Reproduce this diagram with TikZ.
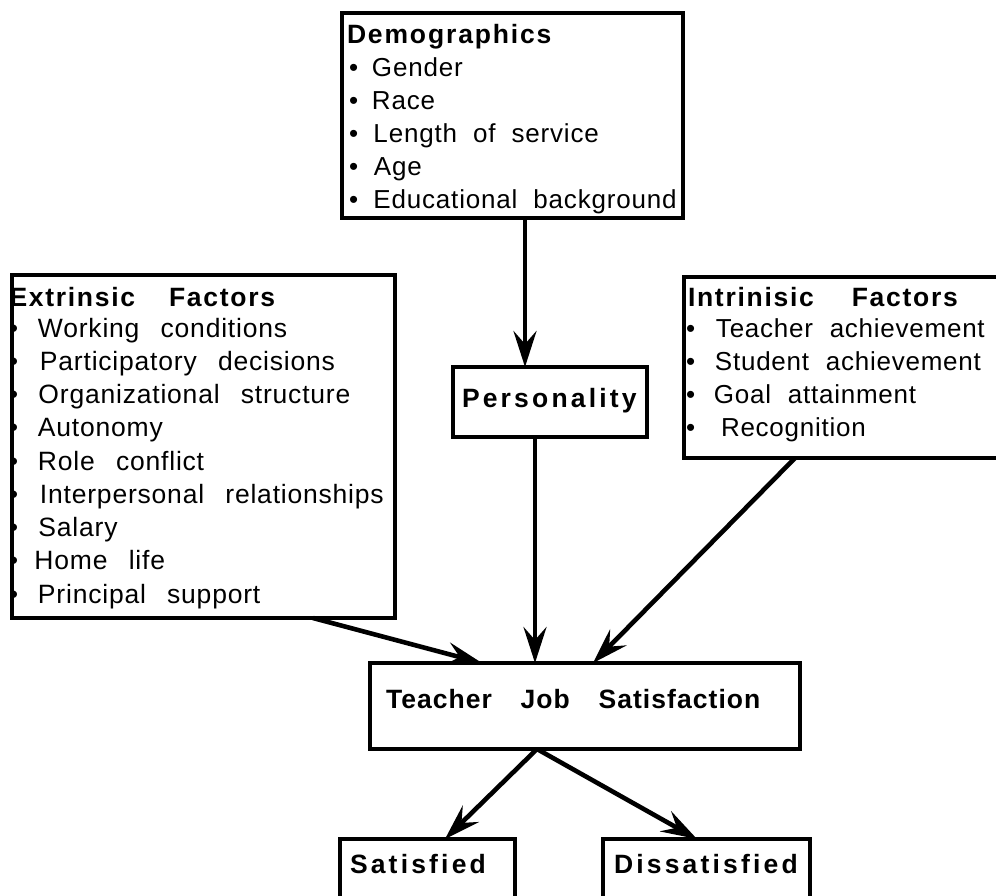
\documentclass[tikz,border=0pt]{standalone}
\usepackage{fontspec}
\setmainfont{Liberation Sans}
\newfontfamily\extf[LetterSpace=3.0,WordSpace=2.6]{Liberation Sans}
\newfontfamily\intf[LetterSpace=2.9,WordSpace=2.1]{Liberation Sans}
\newfontfamily\demf[LetterSpace=3.1,WordSpace=2.0]{Liberation Sans}
\newfontfamily\hdA[LetterSpace=4,WordSpace=3.4]{Liberation Sans}
\newfontfamily\hdS[LetterSpace=6.5,WordSpace=3.4]{Liberation Sans}
\newfontfamily\hdD[LetterSpace=7,WordSpace=3]{Liberation Sans}
\newfontfamily\hdB[LetterSpace=12,WordSpace=3]{Liberation Sans}
\usetikzlibrary{arrows.meta,calc}
\newcommand\bitem[2]{\makebox[#1][l]{•}#2}
\begin{document}
\begin{tikzpicture}[x=1pt,y=-1pt,
 box/.style={draw, line width=3.2pt, inner sep=0, outer sep=0, anchor=north west},
 txt/.style={anchor=base west, inner sep=0, outer sep=0, font=#1},
 hd/.style={anchor=base west, inner sep=0, outer sep=0, font=#1\bfseries\fontsize{26.5}{30}\selectfont},
 arr/.style={line width=4.6pt, -{Stealth[length=36pt,width=23pt,inset=13pt]}}]
\useasboundingbox (0,0) rectangle (996,895);
% boxes
\node[box, minimum width=341pt, minimum height=205pt] (demo) at (342,13) {};
\node[box, minimum width=194pt, minimum height=70pt] (pers) at (453,367) {};
\node[box, minimum width=383pt, minimum height=343pt] (ext) at (12,275) {};
\node[box, minimum width=330pt, minimum height=181pt] (intr) at (684,277) {};
\node[box, minimum width=430pt, minimum height=86pt] (tjs) at (370,663) {};
\node[box, minimum width=175pt, minimum height=80pt] (sat) at (340,839) {};
\node[box, minimum width=207pt, minimum height=80pt] (dis) at (603,839) {};
% demographics text
\node[hd=\hdD] (dh) at (347,43) {Demographics};
\foreach \t/\w [count=\k] in {Gender/23,Race/23,Length of service/24.5,Age/25,Educational background/24.5}
  \node[txt={\demf\fontsize{26}{30}\selectfont}] (d\k) at (349,{43+33*\k}) {\bitem{\w pt}{\t}};
% personality
\node[hd=\hdB] (ph) at (462,407) {Personality};
% extrinsic text (clipped by box)
\begin{scope}
\clip ($(ext.north west)+(1.6,1.6)$) rectangle ($(ext.south east)+(-1.6,-1.6)$);
\node[hd=\hdS] (eh) at (9.5,306) {Extrinsic\hspace{3pt} Factors};
\foreach \t/\w [count=\k] in {Working conditions/29,Participatory decisions/31,Organizational structure/29.5,Autonomy/29,Role conflict/29,Interpersonal relationships/31,Salary/29.5,Home life/25.5,Principal support/29}
  \node[txt={\extf\fontsize{26.5}{30}\selectfont}] (e\k) at (9,{303.75+33.25*\k}) {\bitem{\w pt}{\t}};
\end{scope}
% intrinsic text
\node[hd=\hdS] (ih) at (688,306) {Intrinisic\hspace{7pt} Factors};
\foreach \t/\w [count=\k] in {Teacher achievement/30,Student achievement/29,Goal attainment/28,Recognition/35}
  \node[txt={\intf\fontsize{26}{30}\selectfont}] (i\k) at (686,{303.75+33.25*\k}) {\bitem{\w pt}{\t}};
% other labels
\node[hd=\hdA] (th) at (386,708) {Teacher Job Satisfaction};
\node[hd=\hdB] (sh) at (350,873) {Satisfied};
\node[hd=\hdB] (dsh) at (614,873) {Dissatisfied};
% connectors
\draw[arr] ($(demo.south west)+(183,0)$) -- ($(pers.north west)+(72,0)$);
\draw[arr] ($(pers.south west)+(82,0)$) -- ($(tjs.north west)+(165,0)$);
\draw[arr] ($(ext.south west)+(301,0)$) -- ($(tjs.north west)+(112,0)$);
\draw[arr] ($(intr.south west)+(111,0)$) -- ($(tjs.north west)+(223,0)$);
\draw[arr] ($(tjs.south west)+(167,0)$) -- ($(sat.north west)+(105,0)$);
\draw[arr] ($(tjs.south west)+(167,0)$) -- ($(dis.north west)+(94,0)$);
\end{tikzpicture}
\end{document}
